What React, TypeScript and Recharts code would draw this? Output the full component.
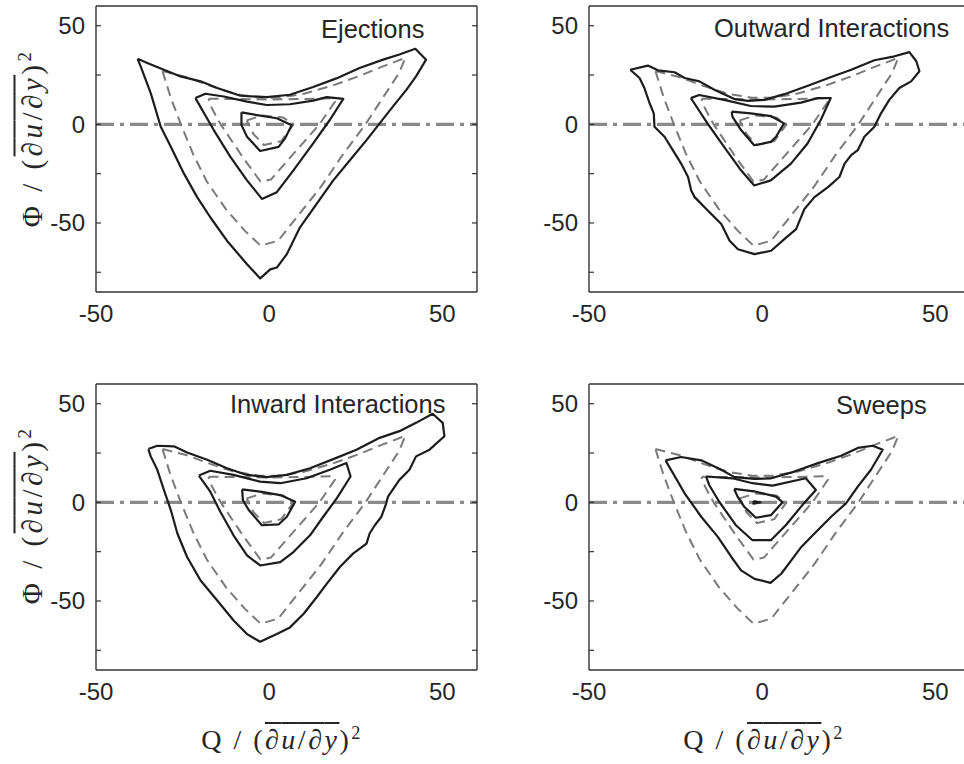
import { ScatterChart, Scatter, XAxis, YAxis, ReferenceLine } from 'recharts';

type Pt = [number, number];

const qDomain = [-50, 60];
const phiDomain = [-85, 60];
const qTicks = [-50, 0, 50];
const qMinorTicks = [-50, -25, 0, 25, 50];
const phiTicks = [-50, 0, 50];
const phiMinorTicks = [-75, -50, -25, 0, 25, 50];

// dashed grey contours (same in every panel)
const refOuter: Pt[] = [
  [-30.8, 27], [-24, 24], [-17, 19.5], [-10, 15.5], [-3, 13.5], [3, 13.5], [10, 15.5], [18, 19.5],
  [26, 24.5], [33, 29.5], [39.3, 33.7], [37.5, 26], [33, 14], [27.8, 0], [21, -16], [15, -31.5],
  [8, -47], [2.6, -59], [-2.5, -61.5], [-7, -54], [-12.5, -43], [-18, -29], [-22, -15],
  [-25.5, 0], [-28.5, 14], [-30.8, 27],
];
const refMiddle: Pt[] = [
  [-17.5, 13], [-8, 12.8], [0, 12.6], [8, 12.8], [18.5, 13.2], [19, 11.5], [14.5, 0], [7.5, -14],
  [0.5, -28], [-2.5, -29], [-7.5, -17], [-14, 0], [-16.5, 8], [-17.5, 13],
];
const refInner: Pt[] = [
  [-6.5, 2], [-2, 4.5], [4, 3.5], [7, 0], [3.5, -8.5], [-1.5, -10.5], [-4.5, -5], [-6.5, 2],
];

// Ejections
const ejOuter: Pt[] = [
  [-38, 33.2], [-35.2, 31.1], [-30.4, 27.7], [-25.6, 24.3], [-19.8, 21.8], [-15, 18.4], [-8.3, 14.5],
  [-0.7, 13.8], [6, 15], [12.7, 18.9], [19.4, 23.3], [26.1, 28.6], [32.9, 32.8], [37.6, 35.4],
  [42.2, 38.3], [45.3, 32.8], [42.4, 24.3], [39.6, 17.5], [35.7, 9], [31.9, 0.5], [28.1, -8],
  [23.3, -18.2], [18.5, -28.4], [13.7, -40.3], [8.9, -52.2], [5.1, -65.8], [2.2, -72.6], [0.3, -73.5],
  [-2.6, -78.1], [-6.4, -70.9], [-12.2, -59], [-17, -47.1], [-20.8, -36.9], [-24.6, -25], [-28.4, -11.4],
  [-31.3, -1.2], [-34.2, 15.8], [-37.1, 29.4], [-38, 33.2],
];
const ejMiddle: Pt[] = [
  [-21.3, 13.3], [-18.4, 15.5], [-13.1, 14.1], [-6.4, 11.5], [-0.7, 9.8], [6, 10.2], [12.7, 12],
  [16.6, 13.8], [21.4, 12.9], [17.5, 2.2], [12.7, -9.7], [7, -23.3], [2.2, -34.4], [-2.1, -37.8],
  [-6.4, -28.4], [-11.2, -16.5], [-16, -2.9], [-21.3, 13.3],
];
const ejInner: Pt[] = [
  [-8, 6.1], [-3.5, 4.7], [2.2, 3.1], [6.5, -0.4], [4.6, -7.1], [2.7, -11.4], [-2.6, -13.5],
  [-6.4, -6.3], [-8, -0.4], [-8, 6.1],
];

// Outward Interactions
const outOuter: Pt[] = [
  [-38.1, 27.7], [-33, 29.8], [-30.1, 27.4], [-25.3, 26.4], [-22.4, 23.5], [-18.1, 21.8], [-13.8, 17.5],
  [-8, 12.8], [-4.1, 11.9], [0.7, 12.4], [6.4, 15.3], [13.2, 19.6], [19.9, 24], [25.7, 27.7],
  [32.4, 32.5], [38.2, 34.5], [42.5, 36.6], [44.5, 32], [45.4, 26.9], [43, 21.8], [39.6, 18.4],
  [36.7, 12.4], [34.3, 5.6], [32.4, -1.2], [29.5, -6.3], [27.6, -13.1], [25.7, -15.6], [23.8, -19.9],
  [22.3, -26.7], [19, -31.8], [15.1, -36.9], [12.2, -42.9], [10.8, -48.8], [9.8, -53.1], [6.4, -58.2],
  [2.6, -64.1], [-2.2, -65.8], [-7, -63.3], [-9.4, -59], [-11.8, -50.5], [-15.7, -43.7], [-19.5, -36.9],
  [-20.5, -33.5], [-21.4, -26.7], [-23.4, -19.9], [-25.8, -13.1], [-28.2, -6.3], [-31.1, -1.2],
  [-31.3, 5.6], [-32.5, 10.7], [-34, 18.4], [-35.4, 23.5], [-38.1, 27.7],
];
const outMiddle: Pt[] = [
  [-20.6, 13.3], [-18.2, 14.9], [-11, 12.4], [-3.3, 9.3], [3.5, 9], [11.2, 11], [16, 13.3], [19.8, 13.3],
  [16.9, 2.2], [13.1, -9.7], [8.3, -19.9], [2.5, -28.4], [-2.3, -31], [-6.1, -23.3], [-11, -11.4],
  [-15.8, 0.5], [-19.6, 10.7], [-20.6, 13.3],
];
const outInner: Pt[] = [
  [-8.8, 6.4], [-3.3, 5.6], [2.5, 4.2], [6.3, 0.5], [4, -6.3], [2.5, -8.9], [-2.3, -10.6],
  [-6.1, -2.9], [-8.6, 3.9], [-8.8, 6.4],
];

// Inward Interactions
const inOuter: Pt[] = [
  [-34.9, 27], [-32.3, 28.7], [-27.5, 28.4], [-23.7, 25.3], [-17.9, 21.6], [-12.2, 17.3], [-6.4, 13.9],
  [-0.7, 12.8], [5.1, 13.9], [11.8, 17.3], [18.5, 21.9], [25.2, 26.7], [31.9, 32.7], [37.6, 36.1],
  [42.4, 40.3], [47.2, 44.9], [50.1, 40.3], [50.6, 33.5], [46.3, 26.7], [42.4, 23.3], [40.5, 16.5],
  [37.6, 11.4], [34.3, 2.9], [33.8, -0.5], [32.4, -7.3], [30.5, -11.6], [29, -15.8], [28.1, -20.9],
  [24.2, -26], [20.4, -32.8], [16.6, -41.3], [13.7, -48.1], [9.9, -56.6], [6, -63.4], [2.2, -66.8],
  [-2.6, -70.7], [-6.4, -66.8], [-10.2, -60], [-15, -49.8], [-19.8, -39.6], [-23.7, -27.7],
  [-26.5, -15.8], [-28.4, -3.9], [-30.4, 6.3], [-32.3, 16.5], [-34.2, 23.3], [-34.9, 27],
];
const inMiddle: Pt[] = [
  [-20.3, 13.6], [-17, 16], [-10.3, 13.9], [-2.6, 10.5], [3.2, 9.7], [10.8, 12.2], [17.5, 16.5],
  [22.3, 19.9], [23.5, 13.1], [19.5, 2], [15.6, -7.3], [11.8, -16.7], [7, -25.2], [3.2, -30.3],
  [-2.6, -32], [-6.4, -26.9], [-10.3, -16.7], [-14.1, -4.8], [-17, 5.4], [-20.3, 13.6],
];
const inInner: Pt[] = [
  [-7.8, 6.6], [-2.6, 5.4], [3.2, 3.7], [7.5, 0.3], [5.1, -7.3], [2.7, -11.2], [-2.1, -11.6],
  [-5.9, -3.9], [-7.6, 1.2], [-7.8, 6.6],
];

// Sweeps
const swOuter: Pt[] = [
  [-27.9, 21.3], [-23.4, 23], [-17.6, 21.3], [-11.8, 16.5], [-8, 12.8], [-2.2, 11.9], [2.6, 12.2],
  [9.3, 15.6], [16.1, 19.9], [22.8, 23.6], [27.6, 27.6], [31.9, 28.7], [34.8, 26.7], [31.4, 16.5],
  [27.6, 8], [24.2, -0.5], [19.9, -7.3], [15.1, -15.8], [11.3, -22.6], [8.4, -29.4], [5.5, -36.2],
  [2.4, -40.8], [-2.2, -38.8], [-6.1, -34.5], [-8.9, -27.7], [-12.8, -17.5], [-17.6, -7.3],
  [-22.4, 4.6], [-27.9, 21.3],
];
const swMiddle: Pt[] = [
  [-16.2, 13.1], [-8.6, 12.2], [-2.8, 9.7], [3, 8.5], [12.6, 12.2], [15.5, 6.3], [11.6, -1.4],
  [6.8, -11.6], [2.5, -19.2], [-2.8, -19.2], [-7.6, -11.6], [-12.4, 0.3], [-15.3, 8.8], [-16.2, 13.1],
];
const swInner: Pt[] = [
  [-8.1, 6.8], [-1.8, 5.4], [4, 2.9], [5.9, 0], [2.5, -6.5], [-1.8, -7.8], [-5.2, -2.2],
  [-7.1, 2.9], [-8.1, 6.8],
];
const swCore: Pt[] = [[-2.5, 0.7], [-0.5, 0], [-2.5, -0.7], [-2.5, 0.7]];

const panels = [
  { title: 'Ejections', left: 0, top: 0, titleX: 321, titleY: 17, solid: [ejOuter, ejMiddle, ejInner] },
  { title: 'Outward Interactions', left: 493, top: 0, titleX: 714, titleY: 16, solid: [outOuter, outMiddle, outInner] },
  { title: 'Inward Interactions', left: 0, top: 378, titleX: 230, titleY: 392, solid: [inOuter, inMiddle, inInner] },
  { title: 'Sweeps', left: 493, top: 378, titleX: 836, titleY: 393, solid: [swOuter, swMiddle, swInner, swCore] },
];

const BOX = '#333333';
const SOLID = '#1c1c1c';
const DASHED = '#7a7a7a';
const tickFont = { fill: '#262626', fontSize: 24, fontFamily: '"Liberation Sans", Arial, sans-serif' };
const blank = () => '';
const noDot = () => <g />;
const toPoints = (c: Pt[]) => c.map(([q, phi]) => ({ q, phi }));

function Panel({ solid, left, top }: { solid: Pt[][]; left: number; top: number }) {
  return (
    <div style={{ position: 'absolute', left, top }}>
      <ScatterChart width={482} height={340} margin={{ top: 6, right: 5, bottom: 8, left: 36 }}>
        <XAxis xAxisId="q" type="number" dataKey="q" domain={qDomain} allowDataOverflow ticks={qTicks} interval={0}
          height={40} tickLine={false} tickSize={0} tickMargin={13} tick={tickFont}
          axisLine={{ stroke: BOX, strokeWidth: 1.4 }} />
        <XAxis xAxisId="qb" type="number" orientation="bottom" mirror domain={qDomain} allowDataOverflow
          ticks={qMinorTicks} interval={0} tickSize={5} tickFormatter={blank} axisLine={false}
          tickLine={{ stroke: BOX, strokeWidth: 1.2 }} />
        <XAxis xAxisId="qt" type="number" orientation="top" mirror domain={qDomain} allowDataOverflow
          ticks={qMinorTicks} interval={0} tickSize={5} tickFormatter={blank}
          axisLine={{ stroke: BOX, strokeWidth: 1.4 }} tickLine={{ stroke: BOX, strokeWidth: 1.2 }} />
        <YAxis yAxisId="phi" type="number" dataKey="phi" domain={phiDomain} allowDataOverflow ticks={phiTicks}
          interval={0} width={60} tickLine={false} tickSize={0} tickMargin={11} tick={tickFont}
          axisLine={{ stroke: BOX, strokeWidth: 1.4 }} />
        <YAxis yAxisId="pl" type="number" mirror domain={phiDomain} allowDataOverflow ticks={phiMinorTicks}
          interval={0} tickSize={5} tickFormatter={blank} axisLine={false}
          tickLine={{ stroke: BOX, strokeWidth: 1.2 }} />
        <YAxis yAxisId="pr" type="number" orientation="right" mirror domain={phiDomain} allowDataOverflow
          ticks={phiMinorTicks} interval={0} tickSize={5} tickFormatter={blank}
          axisLine={{ stroke: BOX, strokeWidth: 1.4 }} tickLine={{ stroke: BOX, strokeWidth: 1.2 }} />
        {[refOuter, refMiddle, refInner].map((c, i) => (
          <Scatter key={'r' + i} xAxisId="q" yAxisId="phi" data={toPoints(c)} fill={DASHED} shape={noDot}
            line={{ stroke: DASHED, strokeWidth: 2, strokeDasharray: '10 6', strokeLinejoin: 'round' }}
            isAnimationActive={false} />
        ))}
        {solid.map((c, i) => (
          <Scatter key={'s' + i} xAxisId="q" yAxisId="phi" data={toPoints(c)} fill={SOLID} shape={noDot}
            line={{ stroke: SOLID, strokeWidth: 2.2, strokeLinejoin: 'round' }}
            isAnimationActive={false} />
        ))}
        <ReferenceLine xAxisId="q" yAxisId="phi" y={0} stroke="#8a8a8a" strokeWidth={3.2}
          strokeDasharray="18 6 4 6" />
      </ScatterChart>
    </div>
  );
}

function AxisTitle({ sym, x, y, vertical }: { sym: string; x: number; y: number; vertical?: boolean }) {
  return (
    <div
      style={{
        position: 'absolute', left: x, top: y, whiteSpace: 'nowrap', lineHeight: 1,
        fontFamily: '"Liberation Serif", "DejaVu Serif", serif', fontSize: vertical ? 29 : 28, color: '#262626',
        letterSpacing: vertical ? 3.5 : 2.5, transform: `translate(-50%, -50%)${vertical ? ' rotate(-90deg)' : ''}`,
      }}
    >
      {sym} / (<span style={{ textDecoration: 'overline' }}>∂<i>u</i>/∂<i>y</i></span>)
      <sup style={{ fontSize: '0.65em', lineHeight: 0 }}>2</sup>
    </div>
  );
}

export default function App() {
  return (
    <div style={{ position: 'absolute', left: 0, top: 0, width: 964, height: 764, overflow: 'hidden', background: '#fff' }}>
      {panels.map((p) => (
        <Panel key={p.title} solid={p.solid} left={p.left} top={p.top} />
      ))}
      {panels.map((p) => (
        <div key={'t' + p.title} style={{
          position: 'absolute', left: p.titleX, top: p.titleY, lineHeight: 1, whiteSpace: 'nowrap',
          fontFamily: '"Liberation Sans", Arial, sans-serif', fontSize: 25.5, color: '#262626',
        }}>{p.title}</div>
      ))}
      <AxisTitle sym="Φ" x={32} y={138} vertical />
      <AxisTitle sym="Φ" x={32} y={515} vertical />
      <AxisTitle sym="Q" x={282} y={740} />
      <AxisTitle sym="Q" x={764} y={740} />
    </div>
  );
}
